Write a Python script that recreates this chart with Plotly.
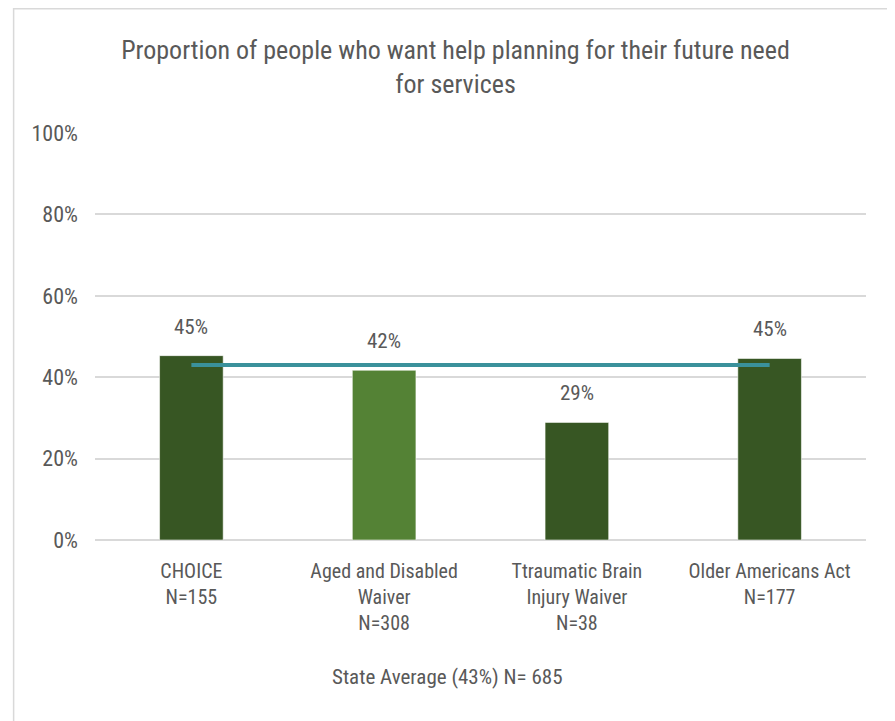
import plotly.graph_objects as go

categories = ["CHOICE", "Aged and Disabled Waiver", "Ttraumatic Brain Injury Waiver", "Older Americans Act"]
category_lines = [["CHOICE"], ["Aged and Disabled", "Waiver"], ["Ttraumatic Brain", "Injury Waiver"], ["Older Americans Act"]]
sample_sizes = [155, 308, 38, 177]
values = [45.3, 41.7, 28.9, 44.6]
bar_colors = ["#375623", "#548235", "#375623", "#375623"]
state_average = 43.0
state_n = 685
y_ticks = [0, 20, 40, 60, 80, 100]
y_tick_labels = ["0%", "20%", "40%", "60%", "80%", "100%"]

FONT = "Liberation Sans Narrow, Roboto Condensed, Arial Narrow, Liberation Sans, sans-serif"
TXT = "#595959"

tick_text = ["<br>".join(lines + [f"N={n}"]) for lines, n in zip(category_lines, sample_sizes)]

fig = go.Figure()
fig.add_trace(go.Bar(
    x=categories, y=values,
    marker=dict(color=bar_colors, line=dict(color="rgba(255,255,255,0.55)", width=1)),
    showlegend=False, hoverinfo="skip",
))
fig.add_trace(go.Scatter(
    x=[categories[0], categories[-1]], y=[state_average, state_average],
    mode="lines", line=dict(color="#3a919b", width=4),
    showlegend=False, hoverinfo="skip",
))

for c, v in zip(categories, values):
    fig.add_annotation(x=c, y=v, text=f"{v:.0f}%", showarrow=False,
                       yanchor="bottom", yshift=15, bgcolor="white",
                       font=dict(family=FONT, size=21, color=TXT))

fig.add_annotation(xref="paper", yref="paper", x=(439 - 86.5) / 772, y=-(669 - 532) / 407,
                   text=f"State Average ({state_average:.0f}%) N= {state_n}", showarrow=False,
                   xanchor="center", yanchor="middle",
                   font=dict(family=FONT, size=21, color=TXT))

fig.add_shape(type="rect", xref="paper", yref="paper",
              x0=(5 - 86.5) / 772, x1=(883 - 86.5) / 772,
              y0=-(721 - 532 + 20) / 407, y1=1 + (125 - 0.75) / 407,
              line=dict(color="#d9d9d9", width=1.5), fillcolor="rgba(0,0,0,0)", layer="below")

fig.update_layout(
    width=895, height=721,
    margin=dict(l=86.5, r=36.5, t=125, b=189),
    paper_bgcolor="white", plot_bgcolor="white",
    bargap=0.67,
    title=dict(text="Proportion of people who want help planning for their future need<br>for services",
               x=0.5, xanchor="center", y=1 - 51 / 721, yanchor="middle",
               font=dict(family=FONT, size=26, color=TXT)),
    font=dict(family=FONT, color=TXT),
)
fig.update_xaxes(tickmode="array", tickvals=categories, ticktext=tick_text,
                 tickfont=dict(family=FONT, size=20, color=TXT),
                 showline=False, showgrid=False, ticks="", ticklabelstandoff=17)
fig.update_yaxes(range=[0, 100], tickvals=y_ticks, ticktext=y_tick_labels,
                 tickfont=dict(family=FONT, size=22, color=TXT),
                 showgrid=True, gridcolor="#d9d9d9", gridwidth=1.5,
                 zeroline=True, zerolinecolor="#d9d9d9", zerolinewidth=1.5,
                 showline=False, ticks="", ticklabelstandoff=16)

fig.write_html("out.html")
